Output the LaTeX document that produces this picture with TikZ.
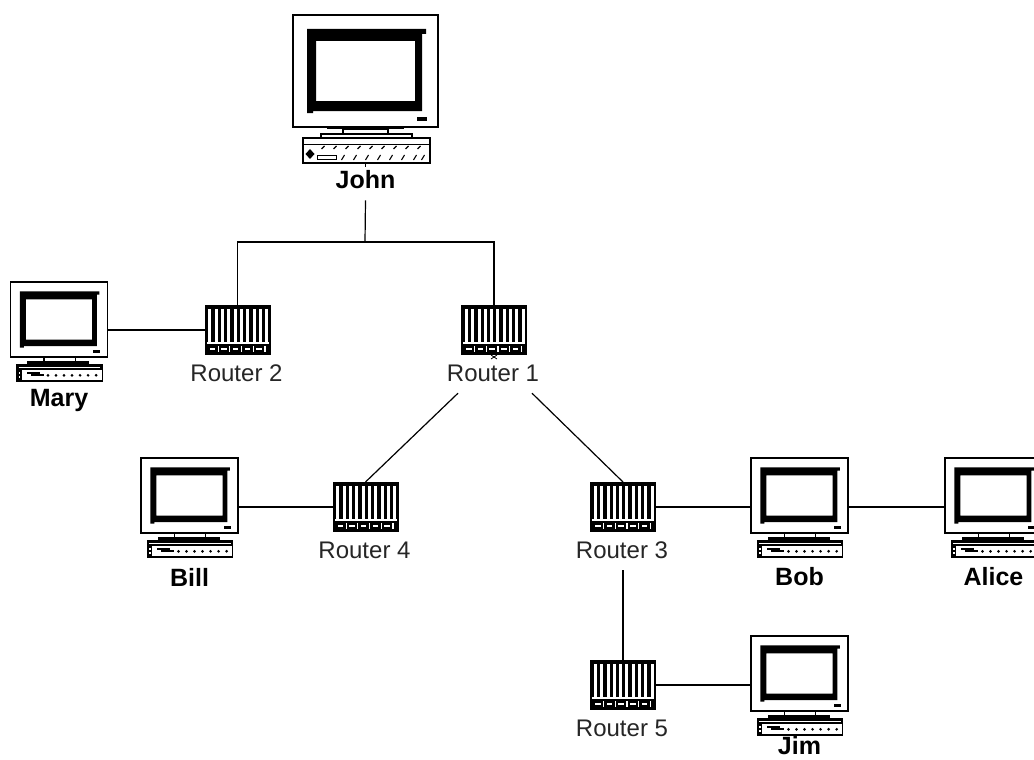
\documentclass[tikz,border=0pt]{standalone}
\usepackage{fontspec}
\setmainfont{Liberation Sans}
\usetikzlibrary{calc}
\tikzset{
  conn/.style={draw=black,line width=1.2pt},
  routerbox/.style={draw=none,fill=black,minimum width=66pt,minimum height=50pt,inner sep=0pt,outer sep=0pt},
  routerlabel/.style={font=\fontsize{24}{24}\selectfont,text=black!85,inner sep=0pt,minimum width=96pt,minimum height=40pt},
  hostlabel/.style={font=\fontsize{25}{25}\selectfont\bfseries,text=black,inner sep=0pt,minimum height=18pt},
  monitorbox/.style={draw=black,line width=1.5pt,fill=white,inner sep=0pt,outer sep=0pt},
  part/.style={draw=black,line width=1.1pt,fill=white}
}
% name, left, top, scale, label, label y
\newcommand{\computerhost}[6]{%
  \pgfmathsetmacro{\mw}{145*#4}%
  \pgfmathsetmacro{\mh}{112*#4}%
  \pgfmathsetmacro{\cx}{#2+72.5*#4}%
  \pgfmathsetmacro{\cy}{#3+56*#4}%
  \node[monitorbox,minimum width=\mw pt,minimum height=\mh pt] (#1) at (\cx,\cy) {};
  \begin{scope}[shift={(#2,#3)},scale=#4]
    \fill[black,even odd rule] (14,14)--(133,14)--(133,19)--(129,19)--(129,96)--(20,96)--(20,98)--(14,98)--cycle
      (23,26) rectangle (122,86);
    \fill[black] (124,102) rectangle (134,106);
    \pgfmathparse{#4<1 ? 1 : 0}%
    \ifnum\pgfmathresult=1
      \draw[part] (50,113) rectangle (97,119);
      \fill[black] (25,118) rectangle (118,123);
      \draw[part] (9.5,123) rectangle (137,148);
      \fill[black] (9.5,123) rectangle (137,131);
      \draw[white,line width=.7pt] (12,127.5)--(134,127.5);
      \fill[black] (9.5,131) rectangle (17,148);
      \fill[white] (12,135) rectangle (14.5,138);
      \fill[white] (12,141) rectangle (14.5,144);
      \fill[black] (24,134) rectangle (44,138);
      \fill[black] (30,138) rectangle (50,141);
      \foreach \hx in {56,68,80,92,104,116,128}{\fill[black] (\hx,139.5) circle (2.2);}
    \else
      \fill[black] (34,112) rectangle (111,114);
      \draw[part] (50,114) rectangle (95,119);
      \draw[part] (28,119) rectangle (119,123);
      \draw[part] (10,123) rectangle (137,148);
      \draw[black,line width=1pt] (10,129.5)--(137,129.5);
      \fill[black] (17,134)--(21.5,139)--(17,144)--(12.5,139)--cycle;
      \draw[part,line width=1pt] (24,140) rectangle (43,144);
      \foreach \hx in {30,42,54,66,78,90,102,114,126}{\draw[black,line width=1.1pt] (\hx+1.5,131)--(\hx-1.5,134);}
      \foreach \hx in {50,62,74,86,98,110,122,130}{\draw[black,line width=1.1pt] (\hx+1.5,140)--(\hx-1.5,145);}
    \fi
  \end{scope}
  \node[hostlabel] (#1-label) at (#2+72.5*#4,#6) {#5};
}
% name, left, top, label
\newcommand{\routerdev}[4]{%
  \node[routerbox] (#1) at (#2+33,#3+25) {};
  \begin{scope}[shift={(#2,#3)}]
    \foreach \bx in {3.9,10.2,16.5,22.8,29.1,35.4,41.7,48,54.3,60.6}{\fill[white] (\bx,3.5) rectangle (\bx+3,37);}
    \fill[white] (2,36.5) rectangle (64,39);
    \foreach \bx in {5,16.7,28.4,40.1,51.8}{
      \fill[white] (\bx,43) rectangle (\bx+5.5,44.5);
      \fill[white] (\bx+8,41) rectangle (\bx+9.2,46.5);
    }
  \end{scope}
  \node[routerlabel] (#1-label) at (#2+32,#3+68) {#4};
}
\begin{document}
\begin{tikzpicture}[x=1pt,y=-1pt]
  \useasboundingbox (0,0) rectangle (1034,760);
  \clip (0,0) rectangle (1034,760);
  \fill[white] (0,0) rectangle (1034,760);
  \coordinate (bus) at (365,242);
  \routerdev{r2}{204.5}{305}{Router 2}
  \routerdev{r1}{461}{305}{Router 1}
  \routerdev{r4}{332.5}{482}{Router 4}
  \routerdev{r3}{590}{482}{Router 3}
  \routerdev{r5}{590}{660}{Router 5}
  \computerhost{john}{293}{15}{1}{John}{180}
  \computerhost{mary}{10.5}{282}{0.669}{Mary}{400}
  \computerhost{bill}{141}{458}{0.669}{Bill}{577}
  \computerhost{bob}{751}{458}{0.669}{Bob}{577}
  \computerhost{alice}{945}{458}{0.669}{Alice}{577}
  \computerhost{jim}{751}{636}{0.669}{Jim}{746}
  \draw[conn] ([yshift=-11pt]john-label.south) -- (bus);
  \draw[conn] (r2.north) -- (r2.north |- bus) -- (r1.north |- bus) -- (r1.north);
  \draw[conn] (mary.east |- r2.west) -- (r2.west);
  \draw[conn] ([xshift=-35pt]r1-label.south) -- (r4.north);
  \draw[conn] ([xshift=39pt]r1-label.south) -- (r3.north);
  \draw[conn] (bill.east |- r4.west) -- (r4.west);
  \draw[conn] (r3.east) -- (bob.west |- r3.east);
  \draw[conn] (bob.east |- r3.east) -- (alice.west |- r3.east);
  \draw[conn] (r3.south |- r3-label.south) -- (r5.north);
  \draw[conn] (r5.east) -- (jim.west |- r5.east);
  \draw[black,line width=.8pt] ([yshift=-36pt]john.south) -- ([yshift=-40pt]john.south);
  \draw[black,line width=.8pt] ([xshift=-3pt]r1.south) -- ([xshift=3pt,yshift=-4pt]r1.south);
  \draw[black,line width=.8pt] ([xshift=3pt]r1.south) -- ([xshift=-3pt,yshift=-4pt]r1.south);
\end{tikzpicture}
\end{document}
